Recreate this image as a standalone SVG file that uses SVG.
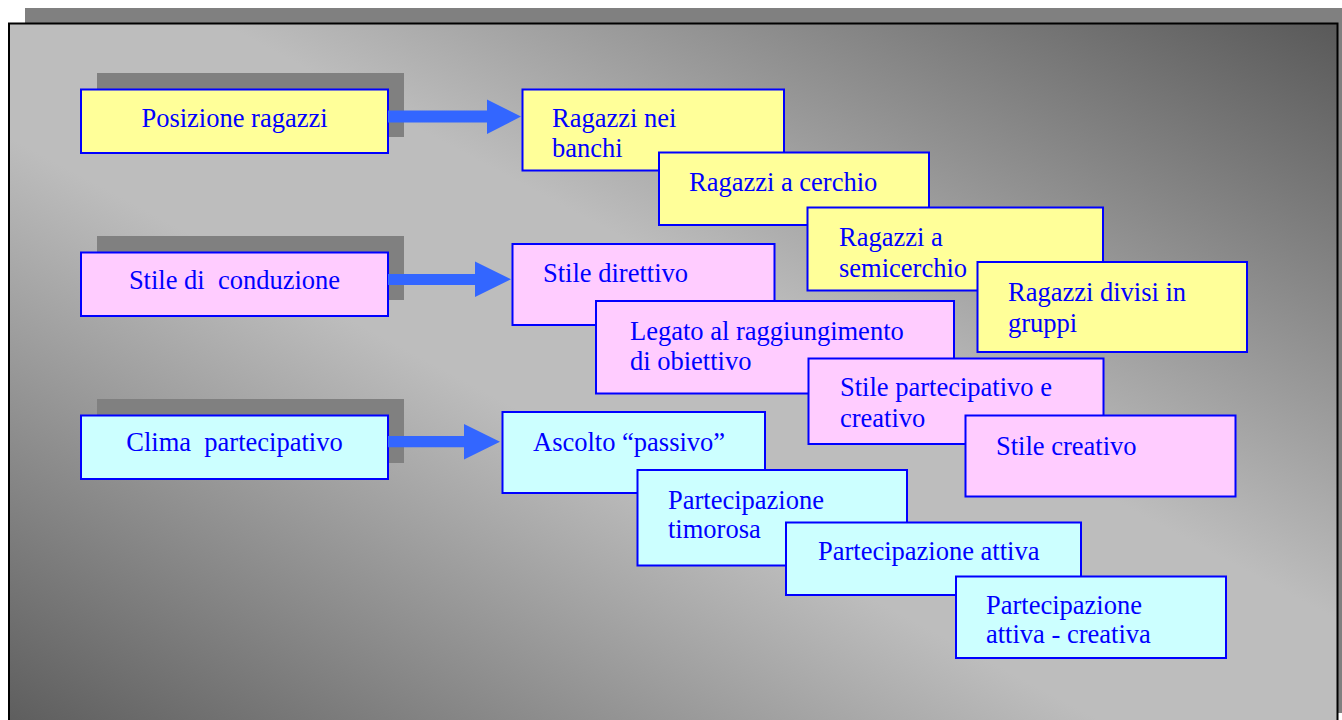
<svg xmlns="http://www.w3.org/2000/svg" width="1342" height="720" viewBox="0 0 1342 720">
<defs>
<linearGradient id="bg" x1="0" y1="1" x2="1" y2="0">
<stop offset="0" stop-color="#5c5c5c"/>
<stop offset="0.42" stop-color="#bdbdbd"/>
<stop offset="0.58" stop-color="#bdbdbd"/>
<stop offset="1" stop-color="#595959"/>
</linearGradient>
<clipPath id="clip1"><rect x="522" y="89" width="262" height="68.5"/></clipPath>
<clipPath id="clip2"><rect x="956" y="576" width="270" height="68.5"/></clipPath>
<style>
.shadow{fill:#808080}
.box{stroke:#0000ff;stroke-width:2}
.y{fill:#ffff99}
.p{fill:#ffccff}
.c{fill:#ccffff}
.t{font-family:"Liberation Serif","Times New Roman",serif;font-size:26.5px;fill:#0000ff}
.mid{text-anchor:middle}
.arrow{fill:#3366ff}
</style>
</defs>
<rect width="1342" height="720" fill="#ffffff"/>
<g id="frame">
<rect x="25" y="8" width="1317" height="705" class="shadow"/>
<rect x="9" y="23.5" width="1328.5" height="710" fill="url(#bg)" stroke="#000000" stroke-width="2"/>
</g>
<g id="posizione-ragazzi">
<rect x="97" y="73" width="307" height="64" class="shadow"/>
<rect x="81" y="89.5" width="307" height="63.5" class="box y"/>
<text x="234.5" y="127" class="t mid">Posizione ragazzi</text>
</g>
<g id="stile-di-conduzione">
<rect x="97" y="236" width="307" height="64" class="shadow"/>
<rect x="81" y="252.5" width="307" height="63.5" class="box p"/>
<text x="234.5" y="288.5" class="t mid" xml:space="preserve">Stile di  conduzione</text>
</g>
<g id="clima-partecipativo">
<rect x="97" y="399" width="307" height="64" class="shadow"/>
<rect x="81" y="415.5" width="307" height="63.5" class="box c"/>
<text x="234.5" y="451" class="t mid" xml:space="preserve">Clima  partecipativo</text>
</g>
<g id="connectors">
<polygon class="arrow" points="388,110.5 487,110.5 487,99.5 521,116.5 487,134 487,122.5 388,122.5"/>
<polygon class="arrow" points="388,274 475,274 475,261.5 511,279.3 475,297 475,285 388,285"/>
<polygon class="arrow" points="388,436 464,436 464,424 500,441.7 464,459.5 464,447.3 388,447.3"/>
</g>
<g id="ragazzi-nei-banchi">
<rect x="522.5" y="89.5" width="261.5" height="81" class="box y"/>
<text x="552" y="127" class="t" clip-path="url(#clip1)"><tspan x="552">Ragazzi nei</tspan><tspan x="552" y="156.5">banchi</tspan></text>
</g>
<g id="ragazzi-a-cerchio">
<rect x="659" y="152.5" width="270" height="72.5" class="box y"/>
<text x="689" y="190.5" class="t">Ragazzi a cerchio</text>
</g>
<g id="ragazzi-a-semicerchio">
<rect x="807.5" y="207.5" width="295.5" height="83" class="box y"/>
<text x="839" y="246" class="t"><tspan x="839">Ragazzi a</tspan><tspan x="839" y="276.5">semicerchio</tspan></text>
</g>
<g id="ragazzi-divisi-in-gruppi">
<rect x="977.5" y="262" width="269.5" height="90" class="box y"/>
<text x="1008" y="301" class="t"><tspan x="1008">Ragazzi divisi in</tspan><tspan x="1008" y="331.5">gruppi</tspan></text>
</g>
<g id="stile-direttivo">
<rect x="512.5" y="244" width="262" height="81" class="box p"/>
<text x="543" y="281.5" class="t">Stile direttivo</text>
</g>
<g id="legato-al-raggiungimento">
<rect x="596" y="301" width="358" height="92.5" class="box p"/>
<text x="630" y="340" class="t"><tspan x="630">Legato al raggiungimento</tspan><tspan x="630" y="369.5">di obiettivo</tspan></text>
</g>
<g id="stile-partecipativo-e-creativo">
<rect x="808.5" y="358.5" width="295" height="85.5" class="box p"/>
<text x="840" y="396" class="t"><tspan x="840">Stile partecipativo e</tspan><tspan x="840" y="426.5">creativo</tspan></text>
</g>
<g id="stile-creativo">
<rect x="965.5" y="415.5" width="270" height="81" class="box p"/>
<text x="996" y="454.5" class="t">Stile creativo</text>
</g>
<g id="ascolto-passivo">
<rect x="502.5" y="412" width="262.5" height="81" class="box c"/>
<text x="533" y="450.5" class="t">Ascolto “passivo”</text>
</g>
<g id="partecipazione-timorosa">
<rect x="637.5" y="470" width="269.5" height="95.5" class="box c"/>
<text x="668" y="508.5" class="t"><tspan x="668">Partecipazione</tspan><tspan x="668" y="538">timorosa</tspan></text>
</g>
<g id="partecipazione-attiva">
<rect x="786" y="522.5" width="295" height="72.5" class="box c"/>
<text x="818" y="560" class="t">Partecipazione attiva</text>
</g>
<g id="partecipazione-attiva-creativa">
<rect x="956" y="576.5" width="270" height="81.5" class="box c"/>
<text x="986" y="614" class="t" clip-path="url(#clip2)"><tspan x="986">Partecipazione</tspan><tspan x="986" y="643">attiva - creativa</tspan></text>
</g>
</svg>
